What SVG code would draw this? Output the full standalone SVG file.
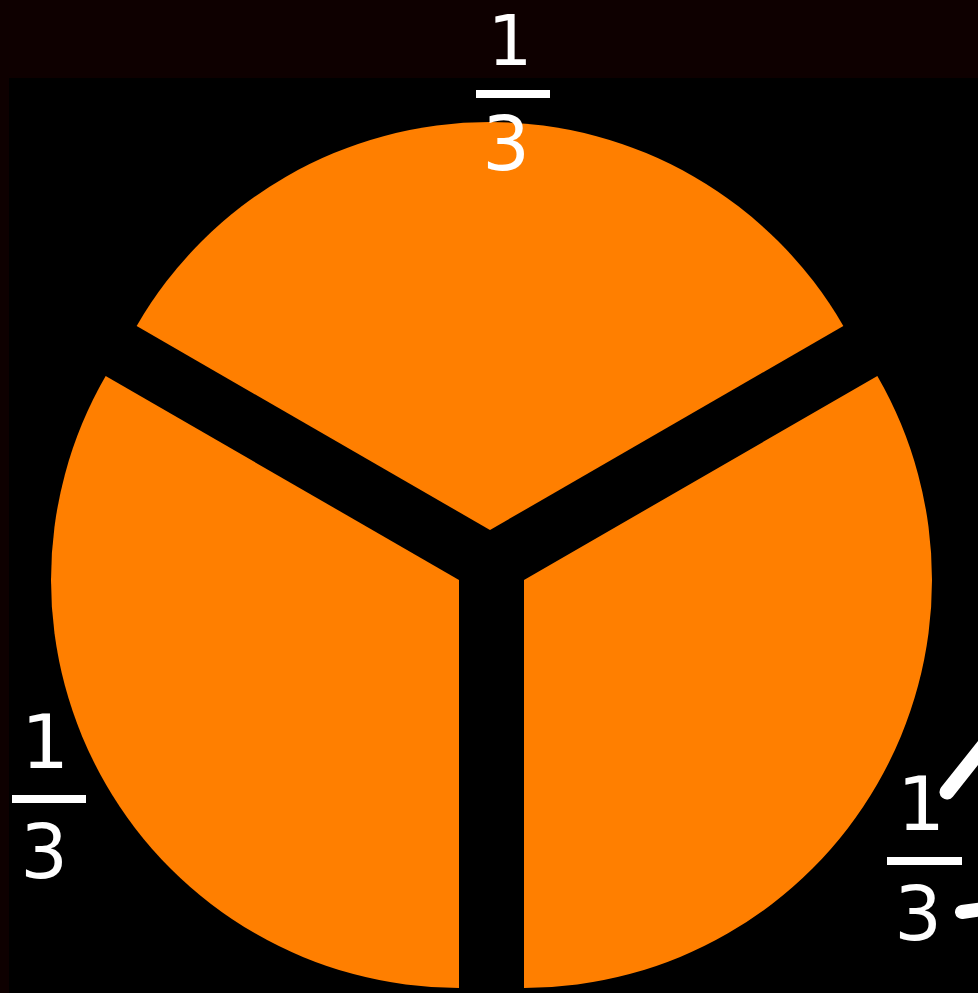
<svg xmlns="http://www.w3.org/2000/svg" width="978" height="993" viewBox="0 0 978 993">
<style>
.sec{fill:#ff7f00}
.lbl{font-family:"DejaVu Sans","Liberation Sans",sans-serif;font-size:75px;fill:#ffffff;text-anchor:middle}
.bar{fill:#ffffff}
.tick{stroke:#ffffff;stroke-linecap:round;fill:none}
</style>
<rect x="0" y="0" width="978" height="993" fill="#0e0000"/>
<rect x="9" y="78" width="969" height="915" fill="#000000"/>
<g id="pie">
<path id="sector-top" class="sec" d="M490 530 L136.66 326 A408 408 0 0 1 843.34 326 Z"/>
<path id="sector-left" class="sec" d="M459 580 L459 988 A408 408 0 0 1 105.66 376 Z"/>
<path id="sector-right" class="sec" d="M524 580 L877.34 376 A408 408 0 0 1 524 988 Z"/>
</g>
<g id="label-top">
<text class="lbl" x="510" y="65" style="font-size:70px">1</text>
<rect class="bar" x="476" y="90" width="74" height="8"/>
<text class="lbl" x="506" y="170">3</text>
</g>
<g id="label-left">
<text class="lbl" x="45" y="768">1</text>
<rect class="bar" x="12" y="795" width="74" height="8"/>
<text class="lbl" x="44" y="878">3</text>
</g>
<g id="label-right">
<text class="lbl" x="921" y="830">1</text>
<rect class="bar" x="887" y="857" width="75" height="8"/>
<text class="lbl" x="918" y="940">3</text>
</g>
<g id="strokes">
<line class="tick" x1="947" y1="792" x2="990" y2="738" stroke-width="15"/>
<line class="tick" x1="962" y1="912" x2="990" y2="908" stroke-width="14"/>
</g>
</svg>
